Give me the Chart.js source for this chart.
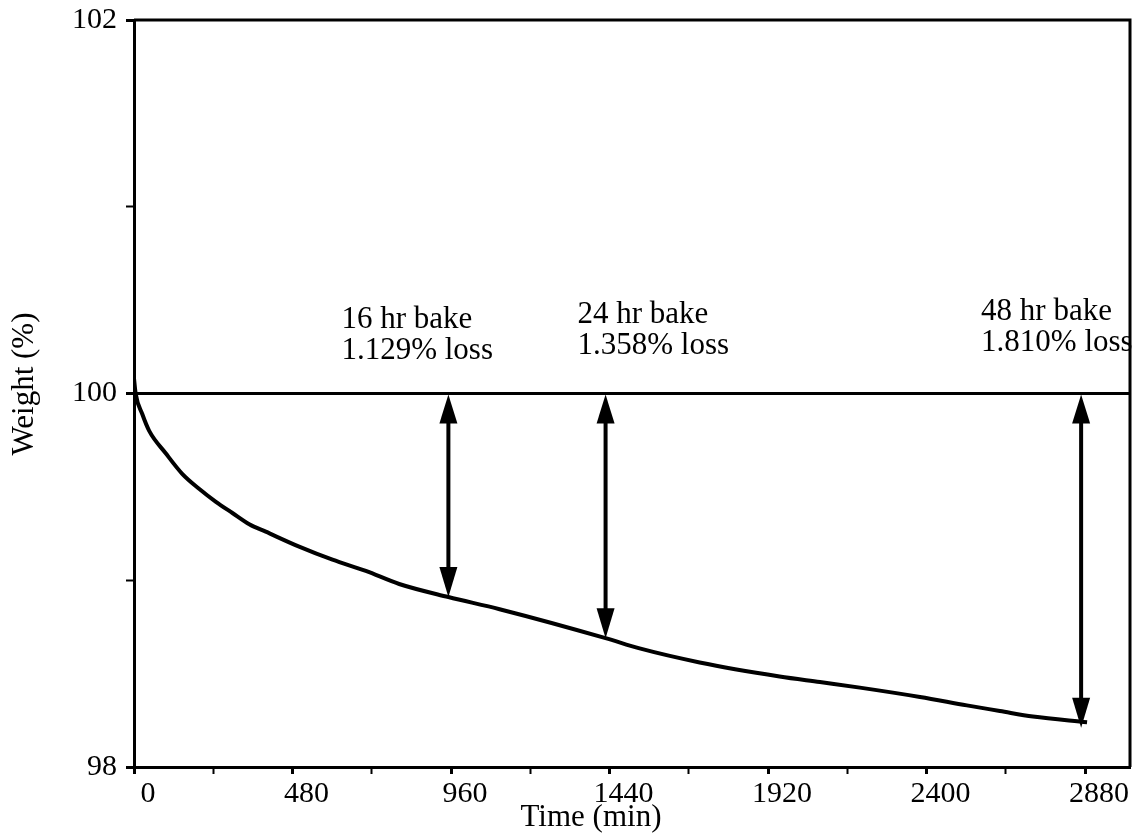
<!DOCTYPE html>
<html>
<head>
<meta charset="utf-8">
<title>Weight loss during bake</title>
<script src="https://cdn.jsdelivr.net/npm/chart.js@4"></script>
<style>
  html, body { margin: 0; padding: 0; background: #fff; }
  #wrap { width: 1141px; height: 837px; position: relative; }
</style>
</head>
<body>
<div id="wrap"><canvas id="bakeChart"></canvas></div>
<script>
'use strict'

// weight curve
var times   = [0, 5, 25, 46, 96, 146, 197, 248, 298, 349, 399, 500, 601, 702, 803, 952, 1107, 1428, 1531, 1713, 1955, 2077, 2198, 2380, 2522, 2622, 2722, 2886];
var weights = [100.08, 100.0, 99.89, 99.80, 99.68, 99.57, 99.49, 99.42, 99.36, 99.30, 99.26, 99.18, 99.11, 99.05, 98.98, 98.91, 98.845, 98.69, 98.635, 98.56, 98.485, 98.455, 98.425, 98.375, 98.33, 98.30, 98.27, 98.24];

var baseline = 100;
var xTicks = [0, 240, 480, 720, 960, 1200, 1440, 1680, 1920, 2160, 2400, 2640, 2880];
var xLabels = [0, 480, 960, 1440, 1920, 2400, 2880];
var yTicks = [98, 99, 100, 101, 102];
var yLabels = [98, 100, 102];

// bake markers
var bakeTimes = [952, 1428, 2868];
var bakeEnds  = [98.91, 98.69, 98.21];
var bakeNotes = [
  ['16 hr bake', '1.129% loss'],
  ['24 hr bake', '1.358% loss'],
  ['48 hr bake', '1.810% loss']
];

var serif = '"Liberation Serif", "Times New Roman", serif';

var curve = times.map(function (t, i) { return { x: t, y: weights[i] }; });

var extras = {
  id: 'extras',
  afterDatasetsDraw: function (chart) {
    var ctx = chart.ctx;
    var xs = chart.scales.x, ys = chart.scales.y;
    var a = chart.chartArea;
    ctx.save();
    ctx.strokeStyle = '#000';
    ctx.fillStyle = '#000';

    // frame top + right
    ctx.lineWidth = 3;
    ctx.beginPath();
    ctx.moveTo(a.left, a.top);
    ctx.lineTo(a.right, a.top);
    ctx.lineTo(a.right, a.bottom);
    ctx.stroke();

    // double arrows
    bakeTimes.forEach(function (t, i) {
      var x = xs.getPixelForValue(t);
      var y0 = ys.getPixelForValue(baseline);
      var y1 = ys.getPixelForValue(bakeEnds[i]);
      var head = 30, hw = 9;
      ctx.lineWidth = 4;
      ctx.beginPath();
      ctx.moveTo(x, y0 + head - 2);
      ctx.lineTo(x, y1 - head + 2);
      ctx.stroke();
      ctx.beginPath();
      ctx.moveTo(x, y0 + 1);
      ctx.lineTo(x - hw, y0 + head);
      ctx.lineTo(x + hw, y0 + head);
      ctx.closePath();
      ctx.fill();
      ctx.beginPath();
      ctx.moveTo(x, y1);
      ctx.lineTo(x - hw, y1 - head);
      ctx.lineTo(x + hw, y1 - head);
      ctx.closePath();
      ctx.fill();
    });

    // notes
    var notePos = [[628, 100.353], [1343, 100.38], [2565, 100.391]];
    ctx.font = '31px ' + serif;
    ctx.textAlign = 'left';
    ctx.textBaseline = 'alphabetic';
    bakeNotes.forEach(function (lines, i) {
      var x = xs.getPixelForValue(notePos[i][0]);
      var y = ys.getPixelForValue(notePos[i][1]);
      ctx.fillText(lines[0], x, y);
      ctx.fillText(lines[1], x, y + 31);
    });

    // axis titles
    ctx.textAlign = 'center';
    ctx.fillText('Time (min)', 591, 826);
    ctx.translate(33, 384);
    ctx.rotate(-Math.PI / 2);
    ctx.fillText('Weight (%)', 0, 0);
    ctx.restore();
  }
};

var ctx = document.getElementById('bakeChart').getContext('2d');
var bakeChart = new Chart(ctx, {
  type: 'line',
  data: {
    datasets: [{
      data: curve,
      borderColor: '#000',
      borderWidth: 4,
      pointRadius: 0,
      cubicInterpolationMode: 'monotone',
      fill: false
    }, {
      data: [{ x: 0, y: baseline }, { x: 3016, y: baseline }],
      borderColor: '#000',
      borderWidth: 3,
      pointRadius: 0,
      fill: false
    }]
  },
  options: {
    responsive: true,
    maintainAspectRatio: false,
    animation: false,
    layout: { padding: { top: 20, right: 11, left: 0, bottom: 0 } },
    plugins: { legend: { display: false }, tooltip: { enabled: false } },
    scales: {
      x: {
        type: 'linear',
        min: 0,
        max: 3016,
        afterBuildTicks: function (s) { s.ticks = xTicks.map(function (v) { return { value: v }; }); },
        afterFit: function (s) { s.height = 70; s.paddingLeft = 0; s.paddingRight = 0; },
        border: { display: true, color: '#000', width: 3 },
        grid: { drawOnChartArea: false, drawTicks: true, tickLength: 7, tickColor: '#000',
                tickWidth: function (c) { return xLabels.indexOf(c.tick.value) >= 0 ? 3 : 2; } },
        ticks: {
          color: '#000',
          font: { family: serif, size: 30 },
          padding: 2,
          labelOffset: 14,
          maxRotation: 0,
          autoSkip: false,
          callback: function (v) { return xLabels.indexOf(v) >= 0 ? String(v) : ''; }
        }
      },
      y: {
        type: 'linear',
        min: 98,
        max: 102,
        afterBuildTicks: function (s) { s.ticks = yTicks.map(function (v) { return { value: v }; }); },
        afterFit: function (s) { s.width = 134; s.paddingTop = 0; s.paddingBottom = 0; },
        border: { display: true, color: '#000', width: 3 },
        grid: { drawOnChartArea: false, drawTicks: true, tickLength: 8, tickColor: '#000',
                tickWidth: function (c) { return yLabels.indexOf(c.tick.value) >= 0 ? 3 : 2; } },
        ticks: {
          color: '#000',
          font: { family: serif, size: 30 },
          padding: 9,
          autoSkip: false,
          callback: function (v) { return yLabels.indexOf(v) >= 0 ? String(v) : ''; }
        }
      }
    }
  },
  plugins: [extras]
});
</script>
</body>
</html>
